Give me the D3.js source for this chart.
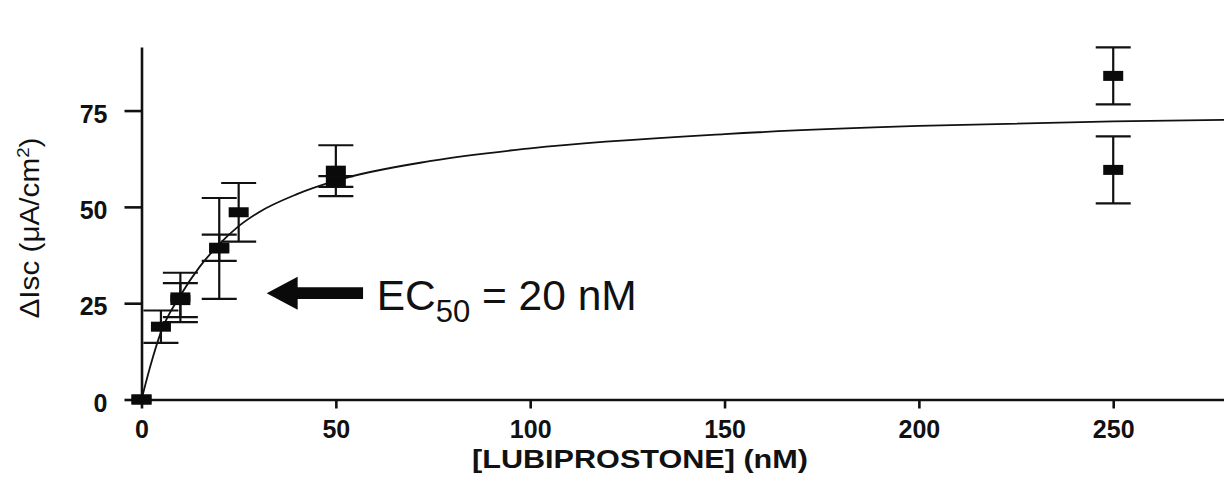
<!DOCTYPE html>
<html>
<head>
<meta charset="utf-8">
<script src="https://cdn.jsdelivr.net/npm/d3@7"></script>
<style>
  html, body { margin: 0; padding: 0; background: #fff; }
  svg { display: block; }
  text { font-family: "Liberation Sans", Arial, Helvetica, sans-serif; fill: #111; }
</style>
</head>
<body>
<svg id="chart" width="1224" height="485"></svg>
<script>
// ---- data ----
const xTicks = [0, 50, 100, 150, 200, 250];
const yTicks = [0, 25, 50, 75];

// series A (points with wider error bars)
const seriesA_x   = [0, 5, 10, 20, 50, 250];
const seriesA_y   = [0, 18.9, 26.5, 39.2, 59.4, 84.0];
const seriesA_err = [0, 4.2, 6.4, 13.1, 6.6, 7.4];

// series B
const seriesB_x   = [0, 10, 20, 25, 50, 250];
const seriesB_y   = [0, 25.8, 39.4, 48.6, 56.6, 59.6];
const seriesB_err = [0, 4.4, 3.4, 7.6, 1.4, 8.7];

// fitted curve
const fitX = [0, 2.5, 5, 10, 15, 20, 25, 30, 40, 50, 75, 100, 150, 200, 250, 278.5];
const fitY = [0, 9.5, 17.5, 27, 34.5, 40.3, 45, 48.5, 53.3, 56.8, 62, 65.2, 68.9, 71.0, 72.2, 72.6];

// annotation (data units)
const arrowFromX = 57, arrowToX = 32.2, arrowY = 27.6;
const labelX = 60.5, labelY = 23.3;
const xTitle = "[LUBIPROSTONE] (nM)";
const yTitle = "ΔIsc (μA/cm";

// ---- layout ----
const svg = d3.select("#chart");
const x = d3.scaleLinear().domain([0, 278.5]).range([141.5, 1224]);
const y = d3.scaleLinear().domain([0, 91.5]).range([399.5, 47]);

// fitted curve
const fit = fitX.map((d, i) => ({x: d, y: fitY[i]}));
svg.append("path")
  .datum(fit)
  .attr("fill", "none")
  .attr("stroke", "#111")
  .attr("stroke-width", 1.8)
  .attr("d", d3.line().x(d => x(d.x)).y(d => y(d.y)).curve(d3.curveMonotoneX));

// axes
const xAxis = svg.append("g")
  .attr("transform", `translate(0,${y(0)})`)
  .call(d3.axisBottom(x).tickValues(xTicks).tickSize(9).tickSizeOuter(0).tickFormat(d3.format("d")));
xAxis.select(".domain").attr("stroke", "#111").attr("stroke-width", 2.6);
xAxis.selectAll(".tick line").attr("stroke", "#111").attr("stroke-width", 2.6);
xAxis.selectAll(".tick text")
  .attr("y", 21).attr("dy", "0.71em")
  .attr("font-size", 25).attr("font-weight", "bold")
  .style("font-family", '"Liberation Sans", Arial, sans-serif').attr("fill", "#111");

const yAxis = svg.append("g")
  .attr("transform", `translate(${x(0)},0)`)
  .call(d3.axisLeft(y).tickValues(yTicks).tickSize(17).tickSizeOuter(0).tickFormat(d3.format("d")));
yAxis.select(".domain").attr("stroke", "#111").attr("stroke-width", 2.6);
yAxis.selectAll(".tick line").attr("stroke", "#111").attr("stroke-width", 2.6);
yAxis.selectAll(".tick text")
  .attr("x", -34).attr("dy", "0.46em")
  .attr("font-size", 25).attr("font-weight", "bold")
  .style("font-family", '"Liberation Sans", Arial, sans-serif').attr("fill", "#111");

// data points with error bars
const pts = [];
seriesA_x.forEach((d, i) => pts.push({x: d, y: seriesA_y[i], e: seriesA_err[i]}));
seriesB_x.forEach((d, i) => pts.push({x: d, y: seriesB_y[i], e: seriesB_err[i]}));

const capHalf = 17.5;
const eb = svg.append("g").attr("stroke", "#111").attr("stroke-width", 2.2);
pts.filter(p => p.e > 0).forEach(p => {
  const cx = x(p.x), y1 = y(p.y + p.e), y2 = y(p.y - p.e);
  eb.append("line").attr("x1", cx).attr("x2", cx).attr("y1", y1).attr("y2", y2);
  eb.append("line").attr("x1", cx - capHalf).attr("x2", cx + capHalf).attr("y1", y1).attr("y2", y1);
  eb.append("line").attr("x1", cx - capHalf).attr("x2", cx + capHalf).attr("y1", y2).attr("y2", y2);
});

const sqW = 20, sqH = 10;
svg.append("g").selectAll("rect").data(pts).join("rect")
  .attr("x", d => x(d.x) - sqW / 2)
  .attr("y", d => y(d.y) - sqH / 2)
  .attr("width", sqW).attr("height", sqH)
  .attr("fill", "#0a0a0a");

// arrow annotation
const tipX = x(arrowToX), tailX = x(arrowFromX), ay = y(arrowY);
const headLen = 31, headHalf = 16.5, shaftHalf = 5.8;
const ap = d3.path();
ap.moveTo(tipX, ay);
ap.lineTo(tipX + headLen, ay - headHalf);
ap.lineTo(tipX + headLen, ay - shaftHalf);
ap.lineTo(tailX, ay - shaftHalf);
ap.lineTo(tailX, ay + shaftHalf);
ap.lineTo(tipX + headLen, ay + shaftHalf);
ap.lineTo(tipX + headLen, ay + headHalf);
ap.closePath();
svg.append("path").attr("d", ap.toString()).attr("fill", "#0a0a0a");

const ec = svg.append("text")
  .attr("x", x(labelX)).attr("y", y(labelY))
  .attr("font-size", 42.5);
ec.append("tspan").text("EC");
ec.append("tspan").attr("font-size", 31).attr("dy", 12).text("50");
ec.append("tspan").attr("dy", -12).text(" = 20 nM");

// axis titles
svg.append("text")
  .attr("x", 640).attr("y", 468)
  .attr("text-anchor", "middle")
  .attr("font-size", 26).attr("font-weight", "bold")
  .attr("textLength", 336).attr("lengthAdjust", "spacingAndGlyphs")
  .text(xTitle);

const yt = svg.append("text")
  .attr("transform", "translate(39,228) rotate(-90)")
  .attr("text-anchor", "middle")
  .attr("font-size", 27)
  .attr("textLength", 181).attr("lengthAdjust", "spacingAndGlyphs");
yt.append("tspan").text(yTitle);
yt.append("tspan").attr("font-size", 17).attr("dy", -10).text("2");
yt.append("tspan").attr("dy", 10).text(")");
</script>
</body>
</html>
